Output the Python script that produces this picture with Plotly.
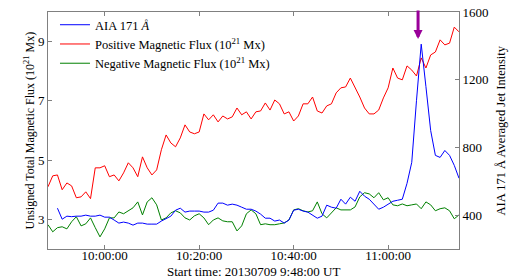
import pandas as pd
import plotly.graph_objects as go

# minute cadence from the start time 2013-07-09 09:48:00
START = pd.Timestamp("2013-07-09 09:48:00")

positive_flux = [
    4.10, 4.47, 4.50, 4.00, 4.23, 4.13, 3.73, 3.76, 3.93, 3.70,
    4.74, 4.74, 4.81, 4.44, 4.50, 4.30, 4.57, 4.91, 4.74, 4.44,
    5.11, 4.74, 4.50, 4.67, 5.35, 5.85, 5.58, 5.45, 5.75, 6.19,
    5.95, 5.89, 5.95, 6.56, 6.36, 6.53, 6.29, 6.49, 6.39, 6.46,
    6.76, 6.53, 6.63, 6.39, 6.63, 6.66, 6.93, 6.69, 7.03, 6.90,
    6.56, 6.63, 6.32, 6.49, 6.90, 6.90, 7.13, 6.66, 6.59, 6.83,
    6.90, 7.27, 7.44, 7.47, 7.77, 7.47, 7.13, 6.76, 6.56, 6.56,
    6.69, 7.10, 7.44, 8.11, 7.77, 7.71, 8.18, 8.04, 7.84, 8.45,
    8.11, 8.55, 8.65, 9.06, 8.89, 8.95, 9.49, 9.33,
]

negative_flux = [
    2.82, 2.58, 2.72, 2.75, 2.68, 2.92, 3.09, 2.78, 2.85, 3.05,
    2.72, 2.41, 2.68, 3.05, 3.05, 3.25, 3.19, 3.29, 3.39, 3.59,
    3.15, 3.59, 3.73, 3.49, 2.98, 3.05, 3.22, 3.29, 3.22, 3.05,
    2.98, 3.12, 3.19, 3.05, 2.82, 2.98, 3.05, 2.95, 2.92, 2.92,
    2.61, 2.78, 3.19, 3.32, 3.19, 2.82, 2.85, 2.82, 2.82, 2.85,
    2.88, 2.98, 3.32, 3.36, 3.29, 3.25, 3.29, 3.59, 3.19, 3.05,
    3.22, 3.39, 3.32, 3.32, 3.32, 3.42, 3.76, 3.90, 3.86, 3.73,
    3.90, 3.66, 3.73, 3.49, 3.46, 3.52, 3.46, 3.49, 3.52, 3.36,
    3.59, 3.49, 3.29, 3.36, 3.39, 3.29, 3.02, 3.15,
]

# AIA 171 starts two minutes later
aia_171 = [
    441, 376, 394, 391, 394, 394, 400, 394, 394, 400,
    388, 388, 371, 353, 359, 353, 341, 353, 353, 347,
    347, 347, 365, 382, 394, 429, 441, 418, 424, 424,
    424, 418, 418, 429, 471, 471, 459, 465, 459, 447,
    435, 435, 424, 406, 382, 382, 365, 371, 353, 371,
    429, 435, 424, 418, 400, 382, 394, 459, 447, 441,
    494, 465, 506, 482, 541, 512, 494, 465, 435, 447,
    465, 482, 488, 494, 588, 712, 1076, 1410, 1159, 900,
    753, 741, 782, 753, 694, 618,
]

flux_time = pd.date_range(START, periods=len(positive_flux), freq="1min")
aia_time = pd.date_range(START + pd.Timedelta(minutes=2), periods=len(aia_171), freq="1min")
peak_time = pd.Timestamp("2013-07-09 11:06:20")

x_ticks = ["2013-07-09 10:00:00", "2013-07-09 10:20:00",
           "2013-07-09 10:40:00", "2013-07-09 11:00:00"]

SERIF = "Liberation Serif, Times New Roman, serif"
AXIS = "#808080"

fig = go.Figure()
fig.add_trace(go.Scatter(x=aia_time, y=aia_171, yaxis="y2", mode="lines",
                         name="AIA 171 <i>Å</i>", line=dict(color="#0000ff", width=1),
                         legendrank=1))
fig.add_trace(go.Scatter(x=flux_time, y=positive_flux, mode="lines",
                         name="Positive Magnetic Flux (10<sup>21</sup> Mx)",
                         line=dict(color="#ff0000", width=1), legendrank=2))
fig.add_trace(go.Scatter(x=flux_time, y=negative_flux, mode="lines",
                         name="Negative Magnetic Flux (10<sup>21</sup> Mx)",
                         line=dict(color="#008000", width=1), legendrank=3))

# purple arrow marking the jet peak
fig.add_annotation(x=peak_time, y=1440, xref="x", yref="y2", text="",
                   showarrow=True, ax=0, ay=-30, arrowhead=2, arrowsize=0.6,
                   arrowwidth=3, arrowcolor="#990099")

# axis labels placed by hand
fig.add_annotation(x=0, y=0.5, xref="paper", yref="paper", xanchor="center",
                   yanchor="middle", xshift=-19, textangle=-90, showarrow=False,
                   text="Unsigned Total Magnetic Flux (10<sup>21</sup> Mx)",
                   font=dict(size=12))
fig.add_annotation(x=1, y=0.5, xref="paper", yref="paper", xanchor="center",
                   yanchor="middle", xshift=41, textangle=-90, showarrow=False,
                   text="AIA 171 Å Averaged Jet Intensity", font=dict(size=12.5))
fig.add_annotation(x=0.5, y=0, xref="paper", yref="paper", xanchor="center",
                   yanchor="middle", yshift=-22, showarrow=False,
                   text="Start time: 20130709 9:48:00 UT", font=dict(size=13))

fig.update_layout(
    width=512, height=279,
    margin=dict(l=48, r=53, t=12, b=30, autoexpand=False),
    paper_bgcolor="white", plot_bgcolor="white",
    font=dict(family=SERIF, size=12, color="black"),
    showlegend=True,
    legend=dict(x=0.017, y=1.008, xanchor="left", yanchor="top",
                bgcolor="rgba(0,0,0,0)", font=dict(size=12.5),
                tracegroupgap=0, itemwidth=30),
    xaxis=dict(
        range=["2013-07-09 09:48:00", "2013-07-09 11:15:00"],
        tickvals=x_ticks, tickformat="%H:%M:%S", tickfont=dict(size=13),
        ticks="inside", ticklen=4, tickcolor=AXIS, ticklabelstandoff=-6,
        showline=True, linecolor=AXIS, linewidth=1, mirror="ticks",
        showgrid=False, zeroline=False, automargin=False,
    ),
    yaxis=dict(
        range=[2, 10], tickvals=[3, 5, 7, 9], tickfont=dict(size=13),
        ticks="inside", ticklen=4, tickcolor=AXIS,
        showline=True, linecolor=AXIS, linewidth=1, mirror=True,
        showgrid=False, zeroline=False, automargin=False,
    ),
    yaxis2=dict(
        range=[200, 1600], tickvals=[400, 800, 1200, 1600], tickfont=dict(size=13),
        overlaying="y", side="right",
        ticks="inside", ticklen=4, tickcolor=AXIS,
        showline=True, linecolor=AXIS, linewidth=1,
        showgrid=False, zeroline=False, automargin=False,
    ),
)

# the page body has a default margin that shifts the fixed-size figure
fig.write_html("out.html", config={"displayModeBar": False},
               post_script="document.body.style.margin='0';")
